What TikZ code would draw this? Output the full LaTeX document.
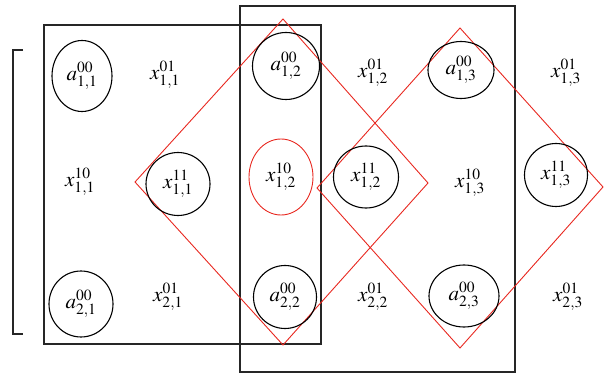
\documentclass[tikz,border=0pt]{standalone}
\usepackage{mathptmx}
\definecolor{myred}{RGB}{232,40,32}
\begin{document}
\begin{tikzpicture}[x=1pt,y=-1pt,
  lab/.style={inner sep=0pt,font=\fontsize{21}{24}\selectfont},
  ring/.style={draw=black,line width=1.1pt},
  redring/.style={draw=myred,line width=0.9pt},
  box/.style={draw=black!85,line width=1.1pt},
  dia/.style={draw=myred,line width=0.9pt}]
\useasboundingbox (0,0) rectangle (608,374);
% rectangles
\draw[box] (44,25) rectangle (321,344);
\draw[box] (240,6) rectangle (515,372);
% bracket
\draw[box] (23,50) -- (13,50) -- (13,334) -- (23,334);
% diamonds
\coordinate (d1t) at (283,19); \coordinate (d1l) at (135,182);
\coordinate (d1b) at (283,345); \coordinate (d1r) at (428,183);
\draw[dia] (d1t) -- (d1r) -- (d1b) -- (d1l) -- cycle;
\coordinate (d2t) at (460,28); \coordinate (d2l) at (317,188);
\coordinate (d2b) at (460,348); \coordinate (d2r) at (603,187);
\draw[dia] (d2t) -- (d2r) -- (d2b) -- (d2l) -- cycle;
% row 1
\node[lab] (a11) at (82,76) {$a^{00}_{1,1}$};
\draw[ring] (a11.center) ellipse [x radius=30, y radius=35.5];
\node[lab] (x11a) at (165,75) {$x^{01}_{1,1}$};
\node[lab] (a12) at (286,66) {$a^{00}_{1,2}$};
\draw[ring] (a12.center) ellipse [x radius=33.5, y radius=33.5];
\node[lab] (x12a) at (373,73) {$x^{01}_{1,2}$};
\node[lab] (a13) at (461,70) {$a^{00}_{1,3}$};
\draw[ring] (a13.center) ellipse [x radius=33, y radius=28.5];
\node[lab] (x13a) at (566,73) {$x^{01}_{1,3}$};
% row 2
\node[lab] (x11b) at (80,182) {$x^{10}_{1,1}$};
\node[lab] (x11c) at (178,184) {$x^{11}_{1,1}$};
\draw[ring] (x11c.center) ellipse [x radius=32, y radius=31.5];
\node[lab] (x12b) at (281,177) {$x^{10}_{1,2}$};
\draw[redring] (x12b.center) ellipse [x radius=32, y radius=38];
\node[lab] (x12c) at (366,177) {$x^{11}_{1,2}$};
\draw[ring] (x12c.center) ellipse [x radius=32.5, y radius=31];
\node[lab] (x13b) at (470,183) {$x^{10}_{1,3}$};
\node[lab] (x13c) at (556,175) {$x^{11}_{1,3}$};
\draw[ring] (x13c.center) ellipse [x radius=31.5, y radius=31.5];
% row 3
\node[lab] (a21) at (81,304) {$a^{00}_{2,1}$};
\draw[ring] (a21.center) ellipse [x radius=32, y radius=33];
\node[lab] (x21a) at (168,297) {$x^{01}_{2,1}$};
\node[lab] (a22) at (285,297) {$a^{00}_{2,2}$};
\draw[ring] (a22.center) ellipse [x radius=31.5, y radius=31.5];
\node[lab] (x22a) at (373,297) {$x^{01}_{2,2}$};
\node[lab] (a23) at (464,296) {$a^{00}_{2,3}$};
\draw[ring] (a23.center) ellipse [x radius=35, y radius=31];
\node[lab] (x23a) at (568,297) {$x^{01}_{2,3}$};
\end{tikzpicture}
\end{document}
